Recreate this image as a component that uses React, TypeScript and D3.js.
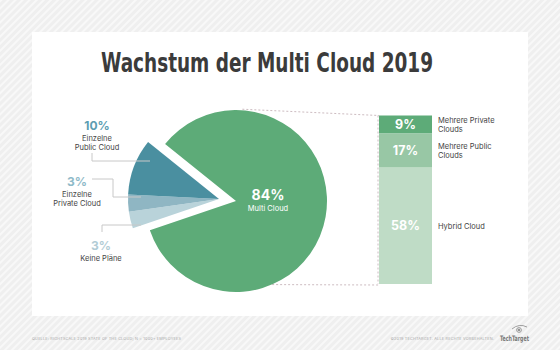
import { useEffect, useRef } from 'react';
import * as d3 from 'd3';

// pie: Multi Cloud vs. the three "single cloud / no plans" answers
const pieLabels = ['Multi Cloud', 'Keine Pläne', 'Einzelne Private Cloud', 'Einzelne Public Cloud'];
const pieValues = [84, 3, 3, 10];
const pieColors = ['#5dab78', '#b9d3da', '#8fb6c3', '#4a8fa0'];
const pieTextColors = ['#ffffff', '#b2ccd5', '#8fbac8', '#5c9db1'];

// breakdown of the 84% multi cloud bar (top to bottom)
const barLabels = [['Mehrere Private', 'Clouds'], ['Mehrere Public', 'Clouds'], ['Hybrid Cloud']];
const barValues = [9, 17, 58];
const barColors = ['#5dab78', '#98c7a5', '#bfdcc6'];

const W = 560;
const H = 350;
const FONT = "'Inter', 'Open Sans', 'DejaVu Sans', sans-serif";

export default function App() {
  const ref = useRef<SVGSVGElement>(null);

  useEffect(() => {
    const svg = d3.select(ref.current).attr('width', W).attr('height', H);
    svg.selectAll('*').remove();

    // striped backdrop
    const defs = svg.append('defs');
    const pat = defs
      .append('pattern')
      .attr('id', 'stripes')
      .attr('width', 5)
      .attr('height', 5)
      .attr('patternUnits', 'userSpaceOnUse')
      .attr('patternTransform', 'rotate(45)');
    pat.append('rect').attr('width', 5).attr('height', 5).attr('fill', '#efefef');
    pat.append('rect').attr('width', 2).attr('height', 5).attr('fill', '#f8f8f8');

    svg.append('rect').attr('width', W).attr('height', H).attr('fill', 'url(#stripes)');
    svg.append('rect').attr('x', 32).attr('y', 32).attr('width', 496).attr('height', 284).attr('fill', '#fff');

    svg
      .append('text')
      .attr('x', 267)
      .attr('y', 72)
      .attr('text-anchor', 'middle')
      .attr('font-family', "'Liberation Sans Narrow', 'DejaVu Sans Condensed', 'Roboto', sans-serif")
      .attr('font-weight', 'bold')
      .attr('font-size', 26)
      .attr('fill', '#3b3b3b')
      .attr('textLength', 332)
      .attr('lengthAdjust', 'spacingAndGlyphs')
      .text('Wachstum der Multi Cloud 2019');

    // ---- pie ----
    const cx = 236;
    const cy = 201;
    const r = 91;
    const off = [-17, -2];
    const deg = Math.PI / 180;

    const pie = d3
      .pie<number>()
      .sort(null)
      .value((d) => d)
      .startAngle(-51.2 * deg)
      .endAngle(308.8 * deg);
    const arcs = pie(pieValues);
    const arc = d3.arc<d3.PieArcDatum<number>>().innerRadius(0).outerRadius(r);

    // dashed bracket from pie to bar
    const y = d3.scaleLinear().domain([0, d3.sum(barValues)]).range([115.5, 284]);
    const bx = 379;
    const bw = 53;
    const pt = (a: number) => [cx + r * Math.sin(a * deg), cy - r * Math.cos(a * deg)];
    const [tx, ty] = pt(4);
    const [lx, ly] = pt(162);
    const dash = svg
      .append('g')
      .attr('fill', 'none')
      .attr('stroke', '#cdbcc1')
      .attr('stroke-width', 1)
      .attr('stroke-dasharray', '2,2');
    dash.append('line').attr('x1', tx).attr('y1', ty - 1).attr('x2', bx).attr('y2', y(0));
    dash.append('line').attr('x1', lx).attr('y1', ly - 3).attr('x2', bx).attr('y2', y(84) + 1);
    dash.append('line').attr('x1', bx - 1).attr('y1', y(0)).attr('x2', bx - 1).attr('y2', y(84));

    const g = svg.append('g');
    g.selectAll('path')
      .data(arcs)
      .join('path')
      .attr('d', arc)
      .attr('fill', (_d, i) => pieColors[i])
      .attr('transform', (_d, i) => (i === 0 ? `translate(${cx},${cy})` : `translate(${cx + off[0]},${cy + off[1]})`));

    // centre label
    g.append('text')
      .attr('x', cx + 32)
      .attr('y', 200)
      .attr('text-anchor', 'middle')
      .attr('font-family', FONT)
      .attr('font-weight', 'bold')
      .attr('font-size', 14)
      .attr('fill', '#fff')
      .text(`${pieValues[0]}%`);
    g.append('text')
      .attr('x', cx + 32)
      .attr('y', 211)
      .attr('text-anchor', 'middle')
      .attr('font-family', FONT)
      .attr('font-size', 7.5)
      .attr('fill', '#fff')
      .text(pieLabels[0]);

    // outer labels with leader lines
    const outer = [
      { i: 3, x: 97, y: 130, lines: ['Einzelne', 'Public Cloud'], path: [[92, 153], [92, 161], [150, 161]] },
      { i: 2, x: 77, y: 186, lines: ['Einzelne', 'Private Cloud'], path: [[92, 179], [113, 179], [113, 197], [141, 197]] },
      { i: 1, x: 101, y: 250, lines: ['Keine Pläne'], path: [[102, 232], [102, 225], [141, 225]] },
    ];
    const line = d3.line();
    outer.forEach((o) => {
      g.append('path')
        .attr('d', line(o.path as [number, number][]))
        .attr('fill', 'none')
        .attr('stroke', '#c8c8c8')
        .attr('stroke-width', 1);
      g.append('text')
        .attr('x', o.x)
        .attr('y', o.y)
        .attr('text-anchor', 'middle')
        .attr('font-family', FONT)
        .attr('font-weight', 'bold')
        .attr('font-size', 12)
        .attr('fill', pieTextColors[o.i])
        .text(`${pieValues[o.i]}%`);
      o.lines.forEach((t, k) => {
        g.append('text')
          .attr('x', o.x)
          .attr('y', o.y + 11 + k * 9)
          .attr('text-anchor', 'middle')
          .attr('font-family', FONT)
          .attr('font-size', 7.5)
          .attr('fill', '#444')
          .text(t);
      });
    });

    // ---- stacked bar ----
    const ends = d3.cumsum(barValues);
    const segs = barValues.map((v, i) => ({ v, y0: ends[i] - v, y1: ends[i], i }));
    const bar = svg.append('g');
    bar
      .selectAll('rect')
      .data(segs)
      .join('rect')
      .attr('x', bx)
      .attr('y', (d) => y(d.y0))
      .attr('width', bw)
      .attr('height', (d) => y(d.y1) - y(d.y0))
      .attr('fill', (d) => barColors[d.i]);
    bar
      .selectAll('text.val')
      .data(segs)
      .join('text')
      .attr('class', 'val')
      .attr('x', bx + bw / 2)
      .attr('y', (d) => (y(d.y0) + y(d.y1)) / 2 + 4.5)
      .attr('text-anchor', 'middle')
      .attr('font-family', FONT)
      .attr('font-weight', 'bold')
      .attr('font-size', 12.5)
      .attr('fill', '#fff')
      .text((d) => `${d.v}%`);
    segs.forEach((d) => {
      const mid = (y(d.y0) + y(d.y1)) / 2;
      const ls = barLabels[d.i];
      ls.forEach((t, k) => {
        bar
          .append('text')
          .attr('x', 438)
          .attr('y', mid + 3 - ((ls.length - 1) * 8.5) / 2 + k * 8.5)
          .attr('font-family', FONT)
          .attr('font-size', 7.5)
          .attr('fill', '#444')
          .text(t);
      });
    });

    // ---- footer ----
    svg
      .append('text')
      .attr('x', 32)
      .attr('y', 340)
      .attr('font-family', FONT)
      .attr('font-size', 3.8)
      .attr('letter-spacing', 0.2)
      .attr('fill', '#aaa')
      .text('QUELLE: RIGHTSCALE 2019 STATE OF THE CLOUD; N = 1000+ EMPLOYEES');
    svg
      .append('text')
      .attr('x', 494)
      .attr('y', 340)
      .attr('text-anchor', 'end')
      .attr('font-family', FONT)
      .attr('font-size', 3.8)
      .attr('letter-spacing', 0.2)
      .attr('fill', '#aaa')
      .text('©2019 TECHTARGET. ALLE RECHTE VORBEHALTEN.');
    svg
      .append('text')
      .attr('x', 500)
      .attr('y', 341)
      .attr('font-family', "'Liberation Sans Narrow', 'DejaVu Sans Condensed', sans-serif")
      .attr('font-weight', 'bold')
      .attr('font-size', 7.5)
      .attr('fill', '#777')
      .attr('textLength', 29)
      .attr('lengthAdjust', 'spacingAndGlyphs')
      .text('TechTarget');
    const eye = svg.append('g').attr('fill', 'none').attr('stroke', '#888').attr('stroke-width', 0.8);
    eye.append('path').attr('d', 'M512,329 Q519,323 527,327');
    eye.append('circle').attr('cx', 519).attr('cy', 330).attr('r', 2.4);
    eye.append('circle').attr('cx', 519).attr('cy', 330).attr('r', 0.9).attr('fill', '#888');
  }, []);

  return <svg ref={ref} style={{ position: 'absolute', left: 0, top: 0, display: 'block' }} />;
}
